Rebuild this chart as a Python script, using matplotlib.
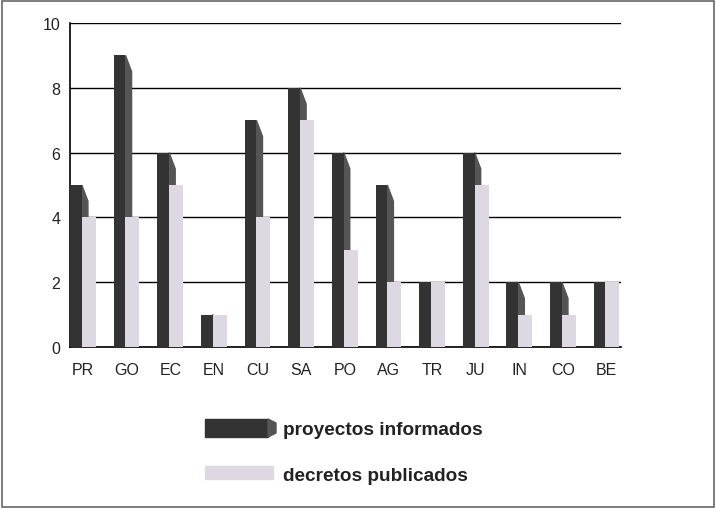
import matplotlib
matplotlib.use("Agg")
from matplotlib import pyplot as plt
from matplotlib.patches import Polygon, Rectangle

# datos
categorias = ["PR", "GO", "EC", "EN", "CU", "SA", "PO", "AG", "TR", "JU", "IN", "CO", "BE"]
proyectos = [5, 9, 6, 1, 7, 8, 6, 5, 2, 6, 2, 2, 2]
decretos = [4, 4, 5, 1, 4, 7, 3, 2, 2, 5, 1, 1, 2]
yticks = [0, 2, 4, 6, 8, 10]

plt.rcParams['font.family'] = ['Liberation Sans', 'DejaVu Sans']

oscuro = "#333333"
lado = "#555555"
claro = "#ddd8e2"

fig = plt.figure(figsize=(7.16, 5.10), dpi=100)
ax = fig.add_axes([0.0978, 0.3176, 0.867 - 0.0978, 0.953 - 0.3176])

x = range(len(categorias))
w1 = 0.27
w2 = 0.32
# barras oscuras (frente)
barras1 = ax.bar([i - 0.3 for i in x], proyectos, width=w1, align="edge",
                 color=oscuro, zorder=3)
# cara lateral en perspectiva
for b in barras1:
    xr = b.get_x() + b.get_width()
    h = b.get_height()
    caida = min(0.5, h * 0.3)
    ax.add_patch(Polygon([(xr, h), (xr + 0.14, h - caida), (xr + 0.14, 0), (xr, 0)],
                         closed=True, color=lado, zorder=2.5))
# barras claras
ax.bar([i - 0.03 for i in x], decretos, width=w2, align="edge",
       color=claro, zorder=4)

ax.set_xlim(-0.3, 12.32)
ax.set_ylim(0, 10)
ax.set_yticks(yticks)
ax.set_xticks(list(x))
ax.set_xticklabels(categorias)
ax.tick_params(axis="both", length=0, labelsize=11.5, colors="#222222")
ax.tick_params(axis="x", pad=11)
ax.tick_params(axis="y", pad=7)
ax.grid(axis="y", color="black", linewidth=1.0, zorder=1)
ax.set_axisbelow(True)
for s in ["top", "right"]:
    ax.spines[s].set_visible(False)
ax.spines["left"].set_linewidth(1.2)
ax.spines["bottom"].set_linewidth(1.2)

# leyenda
W, H = 716, 510
fig.patches.append(Rectangle((205 / W, 1 - 438 / H), 63 / W, 18 / H,
                             transform=fig.transFigure, color=oscuro))
fig.patches.append(Polygon([(268 / W, 1 - 420 / H), (276 / W, 1 - 424 / H),
                            (276 / W, 1 - 434 / H), (268 / W, 1 - 438 / H)],
                           closed=True, transform=fig.transFigure, color=lado))
fig.patches.append(Rectangle((205 / W, 1 - 480 / H), 68 / W, 13 / H,
                             transform=fig.transFigure, color=claro))
fig.text(283 / W, 1 - 431 / H, "proyectos informados", fontsize=13.7,
         fontweight="bold", va="center", color="#222222")
fig.text(283 / W, 1 - 477 / H, "decretos publicados", fontsize=13.7,
         fontweight="bold", va="center", color="#222222")

# marco
fig.patches.append(Rectangle((2 / W, 2 / H), 712 / W, 506 / H, transform=fig.transFigure,
                             fill=False, edgecolor="#666666", linewidth=1.2))

plt.savefig("out.png", dpi=100)
